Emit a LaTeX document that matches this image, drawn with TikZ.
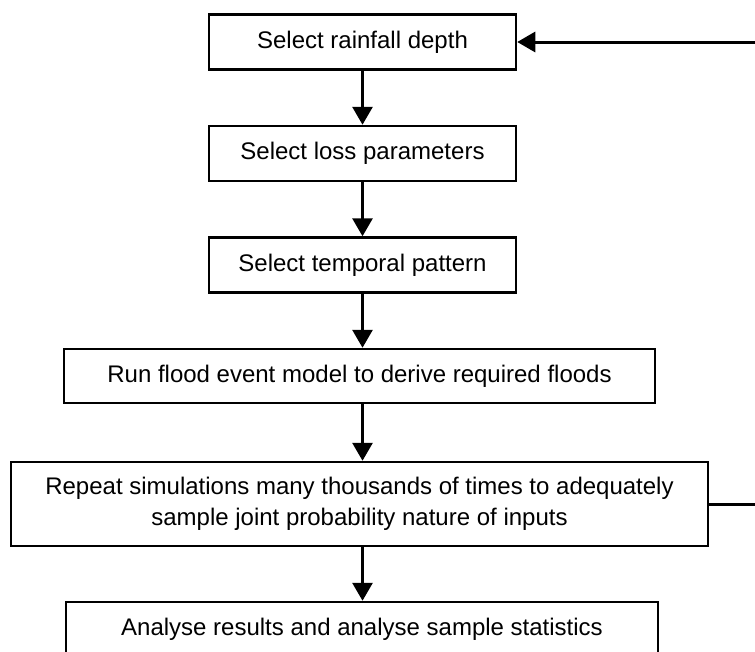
\documentclass[tikz,border=0pt]{standalone}
\usepackage{fontspec}
\setmainfont{Liberation Sans}
\usetikzlibrary{arrows.meta, positioning}

\begin{document}
\begin{tikzpicture}[x=1pt, y=-1pt, every node/.style={font=\fontsize{24}{31}\selectfont}]
    \tikzset{stepbox/.style={rectangle, draw=black, line width=2.5pt, fill=white,
                          minimum width=307pt, minimum height=55pt, align=center,
                          inner sep=0pt},
             flowarrow/.style={line width=3pt, -{Triangle[length=18pt, width=20pt]}}}
    \useasboundingbox (0,0) rectangle (755,651);
    \clip (0,0) rectangle (755,651);
    \node[stepbox] (depth) at (362.5, 42) {Select rainfall depth};
    \node[stepbox] (loss) at (362.5, 153.5) {Select loss parameters};
    \node[stepbox] (pattern) at (362.5, 265) {Select temporal pattern};
    \node[stepbox, minimum width=591pt, minimum height=54pt] (model) at (359.5, 376)
      {Run flood event model to derive required floods};
    \node[stepbox, minimum width=697pt, minimum height=84pt] (repeat) at (359.5, 504)
      {Repeat simulations many thousands of times to adequately\\
       sample joint probability nature of inputs};
    \node[stepbox, minimum width=592pt, minimum height=54pt] (stats) at (362, 629)
      {Analyse results and analyse sample statistics};
    \foreach \a/\b in {depth/loss, loss/pattern, pattern/model, model/repeat, repeat/stats}
      \draw[flowarrow] (\a.south -| depth) -- (\b.north -| depth);
    % loop back runs past the right edge
    \coordinate (loopR) at (775, 0);
    \draw[flowarrow] (repeat.east) -- (repeat.east -| loopR) |- (depth.east);
\end{tikzpicture}
\end{document}
